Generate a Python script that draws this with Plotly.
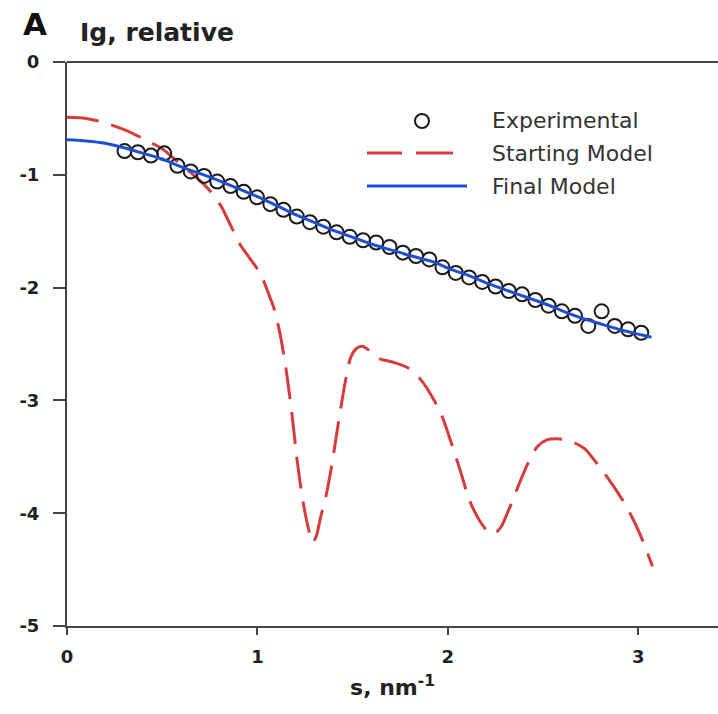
import plotly.graph_objects as go

# ---- data ----
exp_s = [0.302, 0.372, 0.441, 0.511, 0.580, 0.650, 0.720, 0.789, 0.859, 0.928,
         0.998, 1.068, 1.137, 1.207, 1.276, 1.346, 1.416, 1.485, 1.555, 1.624,
         1.694, 1.764, 1.833, 1.903, 1.972, 2.042, 2.112, 2.181, 2.251, 2.320,
         2.390, 2.460, 2.529, 2.599, 2.668, 2.738, 2.808, 2.877, 2.947, 3.016]
exp_lg = [-0.79, -0.80, -0.83, -0.81, -0.92, -0.97, -1.01, -1.06, -1.10, -1.15,
          -1.20, -1.26, -1.31, -1.37, -1.42, -1.46, -1.51, -1.55, -1.58, -1.60,
          -1.64, -1.69, -1.72, -1.75, -1.82, -1.87, -1.91, -1.95, -1.99, -2.03,
          -2.06, -2.11, -2.16, -2.21, -2.25, -2.34, -2.21, -2.34, -2.37, -2.40]

start_s = [0.00, 0.10, 0.20, 0.30, 0.40, 0.50, 0.55, 0.60, 0.71, 0.76,
           0.81, 0.86, 0.91, 0.96, 1.01, 1.03, 1.06, 1.09, 1.12, 1.15,
           1.18, 1.21, 1.24, 1.27, 1.29, 1.31, 1.33, 1.36, 1.39, 1.43,
           1.46, 1.49, 1.52, 1.55, 1.59, 1.64, 1.71, 1.79, 1.86, 1.915,
           1.965, 2.015, 2.065, 2.115, 2.165, 2.215, 2.245, 2.28, 2.32, 2.37,
           2.42, 2.47, 2.52, 2.57, 2.62, 2.67, 2.72, 2.77, 2.82, 2.87,
           2.92, 2.975, 3.025, 3.075]
start_lg = [-0.49, -0.50, -0.54, -0.60, -0.68, -0.77, -0.84, -0.91, -1.07, -1.16,
            -1.28, -1.45, -1.62, -1.74, -1.86, -1.93, -2.06, -2.20, -2.42, -2.72,
            -3.10, -3.55, -3.90, -4.15, -4.26, -4.20, -4.05, -3.85, -3.58, -3.15,
            -2.85, -2.62, -2.54, -2.52, -2.56, -2.63, -2.66, -2.71, -2.82, -2.96,
            -3.12, -3.36, -3.62, -3.89, -4.06, -4.17, -4.18, -4.12, -3.97, -3.76,
            -3.56, -3.41, -3.35, -3.34, -3.35, -3.38, -3.43, -3.53, -3.64, -3.76,
            -3.89, -4.06, -4.25, -4.47]

final_s = [0.00, 0.10, 0.20, 0.30, 0.40, 0.50, 0.60, 0.70, 0.81, 0.91,
           1.01, 1.11, 1.21, 1.31, 1.41, 1.51, 1.61, 1.71, 1.81, 1.92,
           2.02, 2.12, 2.22, 2.32, 2.42, 2.52, 2.62, 2.72, 2.82, 2.92,
           3.02, 3.07]
final_lg = [-0.69, -0.70, -0.72, -0.76, -0.81, -0.86, -0.93, -0.99, -1.06, -1.13,
            -1.20, -1.28, -1.36, -1.43, -1.50, -1.56, -1.62, -1.67, -1.72, -1.77,
            -1.84, -1.90, -1.97, -2.03, -2.09, -2.15, -2.22, -2.28, -2.33, -2.38,
            -2.42, -2.44]

x_ticks = [0, 1, 2, 3]
y_ticks = [0, -1, -2, -3, -4, -5]
legend_names = ["Experimental", "Starting Model", "Final Model"]

RED = "#d63c3c"
BLUE = "#1c4fd4"
AXC = "#444444"
FONT = "DejaVu Sans"

fig = go.Figure()
fig.add_trace(go.Scatter(x=start_s, y=start_lg, mode="lines", name=legend_names[1],
                         line=dict(color=RED, width=3, dash="32px,13px", shape="spline", smoothing=0.8)))
fig.add_trace(go.Scatter(x=exp_s, y=exp_lg, mode="markers", name=legend_names[0],
                         marker=dict(symbol="circle-open", size=14, color="#1a1a1a",
                                     line=dict(width=2, color="#1a1a1a"))))
fig.add_trace(go.Scatter(x=final_s, y=final_lg, mode="lines", name=legend_names[2],
                         line=dict(color=BLUE, width=3, shape="spline", smoothing=0.8)))

# plot area in page pixels (body margin removed below)
PX_L, PX_R, PX_T, PX_B = 67, 718, 62, 626
W, H = 718, 714
L = PX_L
T = PX_T
R = W - PX_R
B = H - PX_B
pw = W - L - R
ph = H - T - B

def px_x(px):
    return (px - PX_L) / pw

def px_y(py):
    return (PX_B - py) / ph

shapes = []
annotations = []
shapes.append(dict(type="line", xref="paper", yref="paper", x0=0, x1=1, y0=1, y1=1,
                   line=dict(color=AXC, width=2)))

leg_rows = [121, 153, 186]
text_x = 490
shapes.append(dict(type="circle", xref="paper", yref="paper", xsizemode="pixel", ysizemode="pixel",
                   xanchor=px_x(422), yanchor=px_y(leg_rows[0]), x0=-7, x1=7, y0=-7, y1=7,
                   line=dict(color="#1a1a1a", width=2)))
for a, b in [(367, 402), (416, 453)]:
    shapes.append(dict(type="line", xref="paper", yref="paper", x0=px_x(a), x1=px_x(b),
                       y0=px_y(leg_rows[1]), y1=px_y(leg_rows[1]), line=dict(color=RED, width=3)))
shapes.append(dict(type="line", xref="paper", yref="paper", x0=px_x(367), x1=px_x(467),
                   y0=px_y(leg_rows[2]), y1=px_y(leg_rows[2]), line=dict(color=BLUE, width=3)))
for name, ry in zip(legend_names, leg_rows):
    annotations.append(dict(text=name, xref="paper", yref="paper", x=px_x(text_x), y=px_y(ry),
                            xanchor="left", yanchor="middle", showarrow=False,
                            font=dict(family=FONT, size=22, color="#333333")))

annotations.append(dict(text="<b>A</b>", xref="paper", yref="paper", x=px_x(21), y=px_y(24),
                        xanchor="left", yanchor="middle", showarrow=False,
                        font=dict(family=FONT, size=31, color="#111111")))
annotations.append(dict(text="<b>Ig, relative</b>", xref="paper", yref="paper", x=px_x(78), y=px_y(32),
                        xanchor="left", yanchor="middle", showarrow=False,
                        font=dict(family=FONT, size=25, color="#222222")))

fig.update_layout(
    width=W, height=H,
    margin=dict(l=L, r=R, t=T, b=B, pad=0),
    paper_bgcolor="white", plot_bgcolor="white",
    showlegend=False,
    shapes=shapes, annotations=annotations,
    xaxis=dict(range=[0, (PX_R - PX_L) / 190.4], tickvals=x_ticks, ticktext=[str(v) for v in x_ticks],
               showgrid=False, zeroline=False, showline=True, linecolor=AXC, linewidth=2,
               ticks="outside", ticklen=7, tickwidth=2, tickcolor=AXC,
               tickfont=dict(family=FONT, size=18, color="#222222", weight="bold"),
               ticklabelstandoff=6,
               title=dict(text="<b>s, nm<sup>-1</sup></b>", standoff=14,
                          font=dict(family=FONT, size=22, color="#222222"))),
    yaxis=dict(range=[-5, 0], tickvals=y_ticks, ticktext=[str(v) for v in y_ticks],
               showgrid=False, zeroline=False, showline=True, linecolor=AXC, linewidth=2,
               ticks="outside", ticklen=12, tickwidth=2, tickcolor=AXC,
               tickfont=dict(family=FONT, size=18, color="#222222", weight="bold"),
               ticklabelstandoff=10),
)

fig.write_html("out.html", config={"displayModeBar": False},
               post_script="document.body.style.margin='0';")
